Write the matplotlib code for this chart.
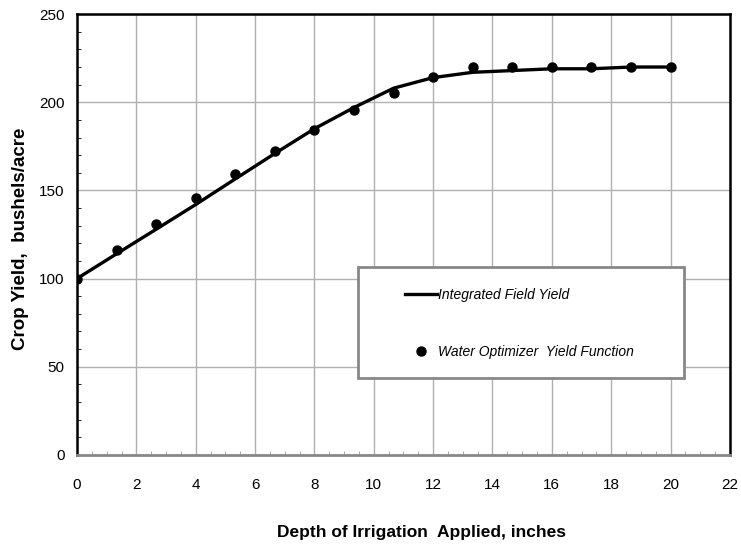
import matplotlib.pyplot as plt
from matplotlib.patches import Rectangle
from matplotlib.ticker import MultipleLocator

plt.rcParams['font.family'] = ['Liberation Sans', 'DejaVu Sans']

# depth of irrigation applied, inches
depth = [0, 1.33, 2.67, 4, 5.33, 6.67, 8, 9.33, 10.67, 12, 13.33, 14.67, 16, 17.33, 18.67, 20]
# integrated field yield (line)
field_yield = [100, 114, 128, 142, 156.5, 171, 185, 197, 208, 214, 217, 218, 219, 219, 220, 220]
# water optimizer yield function (points)
optimizer_yield = [100, 116, 131, 145.5, 159.5, 172.5, 184.5, 195.5, 205.5, 214.5, 220, 220, 220, 220, 220, 220]

fig = plt.figure(figsize=(7.41, 5.44), dpi=100)
ax = fig.add_axes([0.104, 0.164, 0.881, 0.81])

ax.plot(depth, field_yield, color='black', lw=2.4, label='Integrated Field Yield', zorder=3)
ax.plot(depth, optimizer_yield, 'o', color='black', ms=6.5, ls='none',
        label='Water Optimizer  Yield Function', zorder=4)

ax.set_xlim(0, 22)
ax.set_ylim(0, 250)
ax.xaxis.set_major_locator(MultipleLocator(2))
ax.xaxis.set_minor_locator(MultipleLocator(0.5))
ax.yaxis.set_major_locator(MultipleLocator(50))
ax.yaxis.set_minor_locator(MultipleLocator(10))
ax.grid(True, which='major', color='#b0b0b0', lw=1)
ax.set_axisbelow(True)

ax.tick_params(which='both', direction='in', labelsize=11, colors='black')
ax.tick_params(axis='x', which='major', length=0, pad=17)
ax.tick_params(axis='x', which='minor', length=3, color='#999999')
ax.tick_params(axis='y', which='major', length=0, pad=9)
ax.tick_params(axis='y', which='minor', length=3, color='black')

for side in ['left', 'right', 'top']:
    ax.spines[side].set_linewidth(1.8)
    ax.spines[side].set_color('black')
ax.spines['bottom'].set_linewidth(2)
ax.spines['bottom'].set_color('#888888')

ax.set_xlabel('Depth of Irrigation  Applied, inches', fontsize=12.5, fontweight='bold')
ax.xaxis.set_label_coords(0.528, -0.159)
ax.set_ylabel('Crop Yield,  bushels/acre', fontsize=13.5, fontweight='bold')
ax.yaxis.set_label_coords(-0.0735, 0.49)

# legend frame drawn as a patch, entries placed inside it
ax.add_patch(Rectangle((0.4303, 0.1746), 0.4992, 0.2517, transform=ax.transAxes,
                       facecolor='white', edgecolor='#888888', lw=2, zorder=5))
leg = ax.legend(loc='upper left', bbox_to_anchor=(0.5023, 0.3787), frameon=False,
                prop={'style': 'italic', 'size': 10}, handlelength=2.3, handletextpad=0.05,
                labelspacing=3.1, borderpad=0, borderaxespad=0)
leg.set_zorder(6)

fig.savefig('out.png', dpi=100)
